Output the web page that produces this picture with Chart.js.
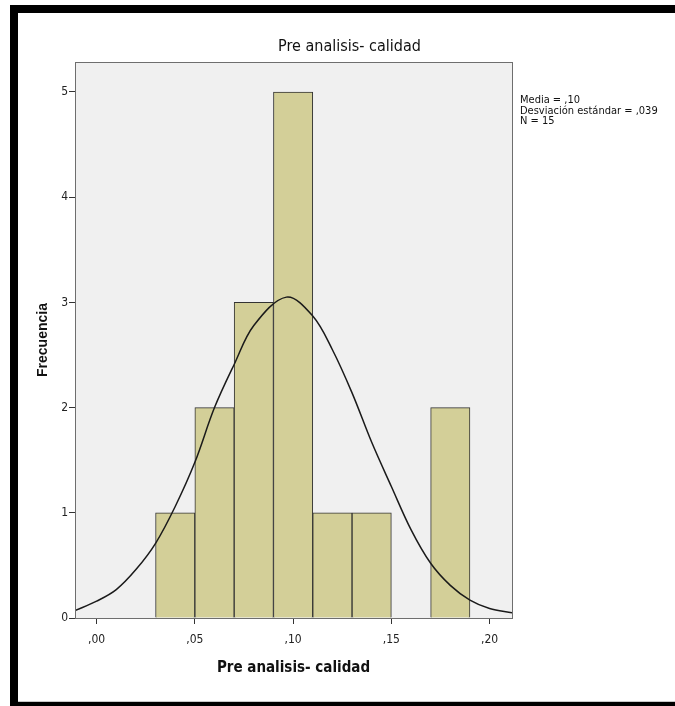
<!DOCTYPE html>
<html lang="es">
<head>
    <meta charset="UTF-8">
    <title>Pre analisis- calidad</title>
    <script src="https://cdn.jsdelivr.net/npm/chart.js"></script>
    <style>
        body { margin: 0; background: #fff; }
        .chart-container { width: 675px; height: 706px; position: relative; }
    </style>
</head>
<body>
    <div class="chart-container">
        <canvas id="histograma"></canvas>
    </div>

    <script>
        // Histograma: centro de cada intervalo (ancho ,02) y frecuencia
        const centrosIntervalo = [0.04, 0.06, 0.08, 0.10, 0.12, 0.14, 0.18];
        const frecuencias = [1, 2, 3, 5, 1, 1, 2];

        // Curva normal
        const curvaX = [-0.011, 0.00, 0.01, 0.02, 0.03, 0.04, 0.05, 0.06, 0.07, 0.08, 0.0966,
                        0.11, 0.12, 0.13, 0.14, 0.15, 0.16, 0.17, 0.18, 0.19, 0.20, 0.2114];
        const curvaY = [0.07, 0.16, 0.27, 0.46, 0.71, 1.06, 1.48, 2.0, 2.41, 2.78, 3.05,
                        2.87, 2.55, 2.14, 1.67, 1.25, 0.84, 0.52, 0.31, 0.17, 0.09, 0.05];

        const ticksX = [0, 0.05, 0.10, 0.15, 0.20];
        const ticksY = [0, 1, 2, 3, 4, 5];
        const estadisticos = ["Media = ,10", "Desviación estándar = ,039", "N = 15"];
        const titulo = "Pre analisis- calidad";

        const fuente = "'Liberation Sans Narrow', 'DejaVu Sans Condensed', Arial, sans-serif";

        // fondo del área, borde, marco negro y textos sueltos
        const decoracion = {
            id: "decoracion",
            beforeDatasetsDraw(chart) {
                const { ctx, chartArea: a } = chart;
                ctx.save();
                ctx.fillStyle = "#f0f0f0";
                ctx.fillRect(a.left, a.top, a.right - a.left, a.bottom - a.top);
                ctx.restore();
            },
            afterDraw(chart) {
                const { ctx, chartArea: a, width, height } = chart;
                ctx.save();
                ctx.strokeStyle = "#6e6e6e";
                ctx.lineWidth = 1;
                ctx.strokeRect(a.left + 0.5, a.top + 0.5, a.right - a.left, a.bottom - a.top);

                // marco negro
                ctx.fillStyle = "#000";
                ctx.fillRect(10, 5, width - 10, 8);
                ctx.fillRect(10, 5, 8, height - 5);
                ctx.fillRect(10, height - 4, width - 10, 4);
                ctx.fillStyle = "#c8c8c8";
                ctx.fillRect(18, height - 5, width - 18, 1);

                // título
                ctx.fillStyle = "#111";
                ctx.font = "16px " + fuente;
                ctx.textAlign = "center";
                ctx.textBaseline = "middle";
                ctx.fillText(titulo, (18 + width) / 2 + 3, 47);

                // estadísticos
                ctx.font = "11px " + fuente;
                ctx.textAlign = "left";
                ctx.textBaseline = "alphabetic";
                estadisticos.forEach((t, i) => ctx.fillText(t, a.right + 8, 103 + i * 10.5));
                ctx.restore();
            }
        };

        new Chart(document.getElementById("histograma"), {
            data: {
                datasets: [
                    {
                        type: "line",
                        label: "Normal",
                        data: curvaX.map((x, i) => ({ x: x, y: curvaY[i] })),
                        borderColor: "#1a1a1a",
                        borderWidth: 1.5,
                        pointRadius: 0,
                        tension: 0.35,
                        fill: false,
                        order: 0
                    },
                    {
                        type: "bar",
                        label: "Frecuencia",
                        data: centrosIntervalo.map((x, i) => ({ x: x, y: frecuencias[i] })),
                        backgroundColor: "#d3cf98",
                        borderColor: "#333",
                        borderWidth: 1,
                        barPercentage: 1,
                        categoryPercentage: 1,
                        order: 1
                    }
                ]
            },
            options: {
                responsive: true,
                maintainAspectRatio: false,
                animation: false,
                layout: { padding: { left: 0, top: 62, right: 163, bottom: 0 } },
                plugins: {
                    legend: { display: false },
                    tooltip: { enabled: false }
                },
                scales: {
                    x: {
                        type: "linear",
                        offset: false,
                        min: -0.011,
                        max: 0.2114,
                        afterBuildTicks: s => { s.ticks = ticksX.map(v => ({ value: v })); },
                        afterFit: s => { s.height = 88; },
                        grid: { offset: false, drawOnChartArea: false, tickLength: 6, tickColor: "#333", tickWidth: 1 },
                        border: { display: true, color: "#6e6e6e" },
                        ticks: {
                            color: "#222",
                            font: { family: fuente, size: 12 },
                            padding: 9,
                            maxRotation: 0,
                            callback: v => "," + Math.round(v * 100).toString().padStart(2, "0")
                        },
                        title: {
                            display: true,
                            text: "Pre analisis- calidad",
                            color: "#111",
                            font: { family: fuente, size: 15, weight: "bold" },
                            padding: { top: 0, bottom: 29 }
                        }
                    },
                    y: {
                        min: 0,
                        max: 5.285,
                        afterBuildTicks: s => { s.ticks = ticksY.map(v => ({ value: v })); },
                        afterFit: s => { s.width = 75; },
                        grid: { drawOnChartArea: false, tickLength: 6, tickColor: "#333", tickWidth: 1 },
                        border: { display: true, color: "#6e6e6e" },
                        ticks: {
                            color: "#222",
                            font: { family: fuente, size: 12 },
                            padding: 1
                        },
                        title: {
                            display: true,
                            text: "Frecuencia",
                            color: "#111",
                            font: { family: "'Liberation Sans', Arial, sans-serif", size: 14, weight: "bold" },
                            padding: { top: 35, bottom: 0 }
                        }
                    }
                }
            },
            plugins: [decoracion]
        });
    </script>
</body>
</html>
